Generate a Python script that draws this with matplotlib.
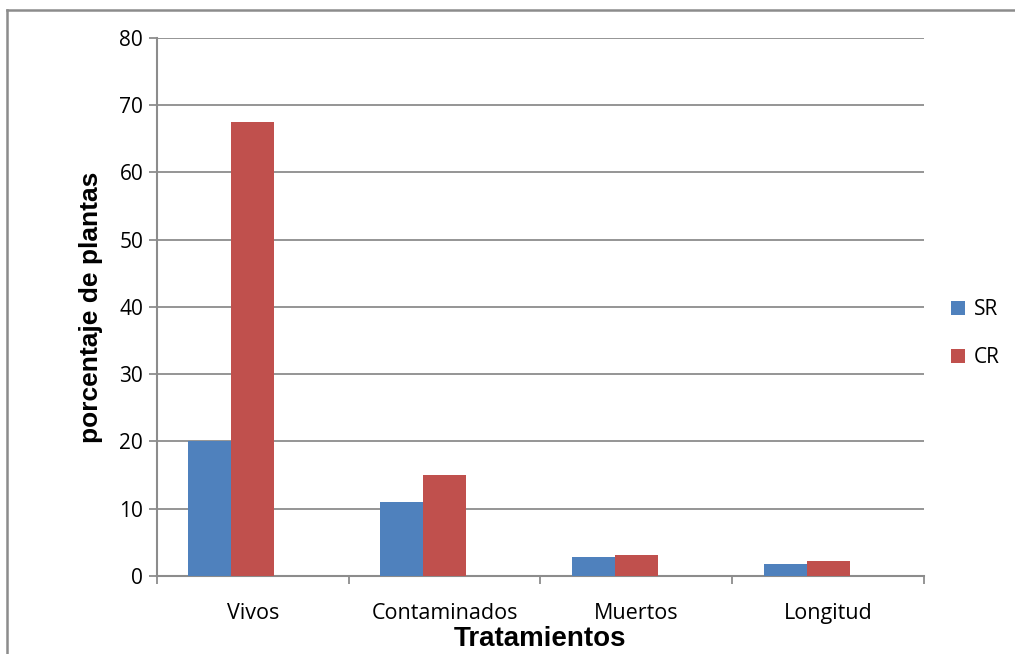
import numpy as np
import matplotlib.pyplot as plt
from matplotlib.lines import Line2D

categorias = ['Vivos', 'Contaminados', 'Muertos', 'Longitud']
sr = [20, 11, 2.8, 1.8]
cr = [67.5, 15, 3.1, 2.2]
series = ['SR', 'CR']
colores = ['#4F81BD', '#C0504D']
yticks = [0, 10, 20, 30, 40, 50, 60, 70, 80]

fig = plt.figure(figsize=(10.15, 6.54), dpi=100)
ax = fig.add_axes([0.1547, 0.1193, 0.9103 - 0.1547, 0.9419 - 0.1193])

# marco exterior del grafico (solo borde superior e izquierdo visibles)
borde = dict(transform=fig.transFigure, color='#8c8c8c', linewidth=1.8)
fig.lines.append(Line2D([7 / 1015, 7 / 1015], [0, 1 - 10 / 654], **borde))
fig.lines.append(Line2D([7 / 1015, 1], [1 - 10 / 654, 1 - 10 / 654], **borde))

x = np.arange(len(categorias))
w = 0.224
ax.bar(x - w, sr, w, color=colores[0], label=series[0], zorder=3)
ax.bar(x, cr, w, color=colores[1], label=series[1], zorder=3)

ax.set_xlim(-0.5, len(categorias) - 0.5)
ax.set_ylim(0, 80)
ax.set_yticks(yticks)
ax.set_xticks(x)
ax.set_xticklabels(categorias)
for t in ax.get_xticklabels():
    t.set_family('Open Sans')
    t.set_fontsize(15.5)
ax.set_xticks(np.arange(-0.5, len(categorias)), minor=True)
ax.tick_params(axis='x', which='major', length=0, pad=19.5)
ax.tick_params(axis='x', which='minor', length=6, color='#8c8c8c', width=1.3)
ax.tick_params(axis='y', length=6, color='#8c8c8c', width=1.3, labelsize=15, pad=4)
for t in ax.get_yticklabels():
    t.set_family('Open Sans')

ax.grid(axis='y', color='#8c8c8c', linewidth=1.3, zorder=0)
for s in ['top', 'right']:
    ax.spines[s].set_visible(False)
for s in ['left', 'bottom']:
    ax.spines[s].set_color('#8c8c8c')
    ax.spines[s].set_linewidth(1.5)

ax.set_ylabel('porcentaje de plantas', fontsize=19, fontweight='bold', family='Liberation Sans', labelpad=12)
ax.set_xlabel('Tratamientos', fontsize=20, fontweight='bold', family='Liberation Sans', labelpad=1.5)

leg = ax.legend(loc='center left', bbox_to_anchor=(1.035, 0.45), frameon=False,
                handlelength=0.7, handleheight=0.7, handletextpad=0.4, labelspacing=1.3,
                borderpad=0, borderaxespad=0, prop={'family': 'Open Sans', 'size': 15})

fig.savefig('out.png', dpi=100)
